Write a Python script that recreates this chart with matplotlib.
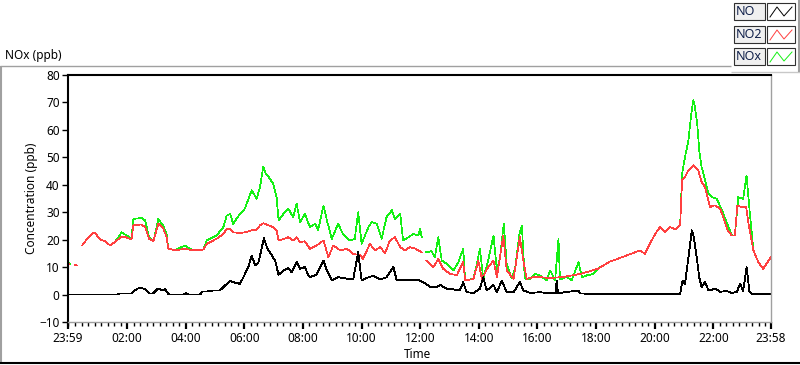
import numpy as np
import matplotlib
matplotlib.use("Agg")
import matplotlib.pyplot as plt
from matplotlib.lines import Line2D
from matplotlib.patches import Rectangle

plt.rcParams["font.family"] = ["Noto Sans", "DejaVu Sans"]

nan = np.nan

# time in minutes after 23:59 of the previous day, values in ppb
no_t = [0, 102, 106, 130, 141, 149, 158, 166, 174, 184, 194, 199, 205, 209, 237, 242, 246, 270,
        276, 285, 297, 311, 318, 332, 338, 352, 359, 369, 376, 383, 390, 397, 401, 407, 413, 424,
        431, 441, 451, 458, 468, 475, 485, 492, 495, 509, 523, 530, 540, 553, 571, 584, 594, 601,
        615, 625, 639, 652, 666, 673, 686, 700, 714, 727, 741, 755, 762, 775, 789, 802, 809, 816,
        830, 843, 850, 857, 871, 878, 888, 898, 912, 925, 932, 946, 966, 980, 999, 1000, 1003,
        1045, 1048, 1089, 1171, 1253, 1258, 1263, 1270, 1277, 1281, 1287, 1292, 1297, 1304, 1311,
        1326, 1335, 1348, 1359, 1369, 1376, 1382, 1389, 1395, 1400, 1439]
no_v = [0, 0, 0.4, 0.4, 2.1, 2.4, 2.0, 0.4, 0.4, 2.2, 1.5, 2.0, 0.2, 0, 0, 0.5, 0, 0,
        1.1, 1.1, 1.5, 1.5, 2.7, 5.1, 4.5, 3.9, 6.3, 10.0, 14.2, 10.6, 11.8, 17.3, 20.5, 17.3, 15.4, 12.4,
        7.2, 8.8, 9.6, 8.1, 11.8, 9.4, 10.0, 6.9, 6.3, 7.3, 12.4, 8.8, 5.1, 6.3, 5.8, 5.7, 15.4, 5.1,
        6.3, 6.8, 5.5, 6.3, 10.0, 5.1, 5.5, 5.1, 5.5, 4.5, 2.9, 2.7, 3.5, 2.1, 1.9, 1.5, 4.5, 0.85,
        0.6, 2.1, 6.3, 1.5, 3.5, 0.85, 5.1, 0.85, 0.85, 4.5, 1.5, 0.6, 0.85, 0.6, 0.6, 5.1, 0.5,
        1.5, 0.4, 0.2, 0.2, 0.3, 5.1, 3.9, 13.6, 23.4, 20.9, 13.6, 6.3, 2.7, 4.5, 1.5,
        2.1, 1.0, 1.3, 0.6, 1.0, 3.9, 1.3, 10.0, 1.0, 0.3, 0.3]

no2_t = [0, 3, 8, 14, 18, 23, 29, 40, 51, 55, 66, 76, 86, 96, 110, 120, 130, 134, 151, 158, 166,
         175, 185, 195, 202, 205, 219, 240, 260, 277, 284, 304, 318, 325, 332, 338, 352, 362, 376,
         386, 393, 400, 410, 420, 427, 431, 441, 451, 461, 468, 475, 485, 495, 509, 523, 533, 543,
         557, 571, 584, 598, 604, 618, 628, 639, 649, 659, 669, 680, 690, 700, 711, 724, 728, 733,
         748, 758, 768, 782, 796, 809, 813, 830, 840, 847, 860, 871, 878, 891, 898, 912, 925, 932,
         939, 956, 987, 1017, 1048, 1085, 1109, 1140, 1171, 1181, 1191, 1202, 1212, 1222, 1232,
         1243, 1253, 1257, 1263, 1270, 1280, 1290, 1297, 1304, 1314, 1324, 1335, 1341, 1350, 1359,
         1365, 1370, 1379, 1388, 1393, 1403, 1413, 1423, 1434, 1439]
no2_v = [11.7, 11.0, nan, 10.8, 10.6, nan, 17.9, 20.5, 22.4, 22.5, 20.0, 19.5, 17.9, 19.1, 21.2, 20.8, 20.0, 25.4, 25.5, 24.5, 20.3,
         19.5, 25.8, 24.0, 20.9, 16.7, 16.2, 16.6, 16.1, 16.4, 18.5, 20.3, 22.1, 24.0, 24.0, 22.7, 22.4, 22.7, 23.4,
         23.6, 25.2, 26.0, 25.2, 24.6, 23.4, 19.7, 20.2, 20.9, 19.7, 20.9, 19.1, 19.4, 16.7, 17.9, 19.7, 13.6, 17.9,
         16.1, 16.7, 14.8, 14.4, 13.0, 18.5, 16.1, 17.3, 15.1, 19.7, 20.9, 17.3, 16.1, 17.3, 16.7, 15.4, nan, 12.4,
         10.0, 13.0, 9.4, 7.5, 7.1, 11.8, 5.1, 5.7, 12.4, 5.7, 10.0, 12.4, 6.3, 21.5, 8.8, 5.7, 20.9, 12.4,
         5.7, 6.5, 6.0, 6.5, 7.5, 9.4, 12.0, 14.0, 16.1, 14.8, 18.5, 22.1, 24.6, 22.7, 24.6,
         23.8, 25.2, 41.6, 42.8, 45.3, 47.1, 45.3, 41.0, 39.2, 31.9, 32.5, 31.3, 28.2, 23.4, 21.5,
         21.5, 32.5, 31.9, 31.9, 25.8, 16.1, 11.8, 9.4, 12.4, 13.6]

nox_t = [0, 4, 8, 14, 18, 23, 29, 40, 51, 55, 66, 76, 86, 96, 110, 120, 130, 134, 151, 158, 166,
         175, 185, 195, 202, 205, 219, 240, 250, 260, 277, 284, 304, 318, 325, 332, 338, 352, 362,
         376, 386, 393, 400, 405, 410, 420, 427, 431, 441, 451, 461, 468, 475, 485, 495, 506, 512,
         523, 530, 540, 553, 563, 577, 587, 594, 601, 615, 622, 632, 642, 652, 663, 669, 680, 686,
         697, 707, 717, 721, 724, 728, 733, 744, 751, 758, 765, 775, 789, 799, 809, 813, 823, 830,
         837, 843, 850, 860, 871, 878, 884, 892, 898, 908, 915, 924, 929, 935, 946, 956, 966, 980,
         987, 997, 1004, 1007, 1021, 1031, 1045, 1052, 1062, 1075, 1086, 1109, 1140, 1171, 1181,
         1191, 1202, 1212, 1222, 1232, 1243, 1253, 1257, 1263, 1270, 1275, 1280, 1283, 1288, 1292,
         1297, 1304, 1311, 1318, 1328, 1338, 1352, 1359, 1365, 1372, 1382, 1389, 1395, 1403, 1413,
         1423, 1434, 1439]
nox_v = [11.7, 11.0, nan, 10.8, 10.6, nan, 17.9, 20.5, 22.4, 22.5, 20.0, 19.5, 17.9, 19.1, 22.7, 21.5, 20.5, 27.6, 27.9, 27.0, 20.8,
         19.5, 27.6, 25.0, 22.0, 16.7, 16.2, 17.9, 16.6, 16.1, 16.4, 19.7, 21.5, 24.6, 28.8, 29.4, 25.8, 29.4, 31.3,
         38.0, 34.9, 39.2, 46.7, 44.0, 43.0, 40.4, 35.5, 27.0, 29.4, 31.3, 28.2, 33.1, 26.4, 29.4, 24.6, 25.8, 23.4,
         32.5, 27.0, 20.3, 25.8, 22.0, 19.7, 20.3, 30.0, 18.5, 24.6, 26.4, 25.8, 20.3, 28.2, 30.7, 27.6, 29.4, 19.7,
         20.9, 22.1, 21.5, 24.0, 20.9, nan, 15.4, 15.8, 13.6, 20.9, 12.4, 11.2, 8.8, 11.8, 16.7, 5.1, 5.5, 5.8,
         11.2, 16.7, 5.8, 12.4, 21.5, 8.8, 13.0, 25.8, 11.2, 5.8, 9.4, 22.1, 25.2, 5.8, 5.7, 7.5, 7.0, 5.1,
         8.8, 5.1, 20.3, 5.5, 6.5, 5.1, 11.8, 6.3, 7.0, 7.5, 9.6, 12.0, 14.0, 16.1, 14.8,
         18.5, 22.1, 24.6, 22.7, 24.6, 23.8, 25.2, 44.0, 50.1, 56.2, 64.7, 70.8, 68.5, 62.3, 52.6,
         46.5, 41.6, 36.7, 35.5, 34.9, 31.0, 24.6, 21.5, 21.5, 35.5, 34.9, 43.4, 31.0, 16.1, 11.8,
         9.4, 12.4, 13.6]

tick_min = [0, 121, 241, 361, 481, 601, 721, 841, 961, 1081, 1201, 1321, 1439]
tick_lab = ["23:59", "02:00", "04:00", "06:00", "08:00", "10:00", "12:00", "14:00",
            "16:00", "18:00", "20:00", "22:00", "23:58"]
y_ticks = [-10, 0, 10, 20, 30, 40, 50, 60, 70, 80]

W, H = 800, 365
fig = plt.figure(figsize=(W / 100, H / 100), dpi=100)


def fx(x):
    return x / W


def fy(y):
    return 1 - y / H


def fline(x0, y0, x1, y1, color, lw=1.0):
    fig.add_artist(Line2D([fx(x0), fx(x1)], [fy(y0), fy(y1)], transform=fig.transFigure,
                          color=color, lw=lw, solid_capstyle="butt"))


ax = fig.add_axes([fx(68), fy(322), fx(771 - 68), (322 - 75) / H])
# LabVIEW draws 1 px lines without smoothing
ax.plot(nox_t, nox_v, color="#14f014", lw=0.5, antialiased=False)
ax.plot(no2_t, no2_v, color="#ff4040", lw=0.5, antialiased=False)
ax.plot(no_t, no_v, color="black", lw=0.6, antialiased=False)

ax.set_xlim(0, 1439)
ax.set_ylim(-10, 80)
ax.set_yticks(y_ticks)
ax.set_xticks(tick_min)
ax.set_xticklabels(tick_lab)
ax.set_xticks([m for m in np.arange(121 - 120 / 9 * 9, 1440, 120 / 9) if m >= 0], minor=True)
ax.tick_params(axis="y", length=4, width=1, labelsize=8.5, pad=2)
ax.tick_params(axis="x", which="major", length=5, width=1.6, labelsize=8.5, pad=2)
ax.tick_params(axis="x", which="minor", length=3, width=1)
for s in ["left", "top"]:
    ax.spines[s].set_color("black")
    ax.spines[s].set_linewidth(1.5)
for s in ["right", "bottom"]:
    ax.spines[s].set_color("#a0a0a0")
    ax.spines[s].set_linewidth(1.0)

fig.text(fx(32), fy(198), "Concentration (ppb)", rotation=90, ha="center", va="center", fontsize=8.5)
fig.text(fx(417), fy(354), "Time", ha="center", va="center", fontsize=8.5)
fig.text(fx(5), fy(56), "NOx (ppb)", ha="left", va="center", fontsize=8.5)

# outer frame
fline(0.5, 66, 0.5, 363, "#a0a0a0", 1.5)
fline(0, 66, 731, 66, "#a0a0a0", 1.0)
fline(0, 363, 800, 363, "black", 1.5)
fline(731, 72, 800, 72, "#c8c8c8", 1.0)
fline(798.5, 0, 798.5, 72, "#a0a0a0", 1.5)

# legend
rows = [("NO", "black", 3), ("NO2", "#ff4040", 26), ("NOx", "#14f014", 48)]
for name, col, top in rows:
    fig.add_artist(Rectangle((fx(734), fy(top + 17)), fx(31), 17 / H, transform=fig.transFigure,
                             facecolor="#f0f0f0", edgecolor="#303030", lw=0.8))
    fig.text(fx(736), fy(top + 8.5), name, ha="left", va="center", fontsize=9, color="#10204a")
    fig.add_artist(Rectangle((fx(767), fy(top + 17)), fx(28), 17 / H, transform=fig.transFigure,
                             facecolor="white", edgecolor="#303030", lw=0.8))
    zx = [770, 777, 784, 792]
    zy = [top + 14, top + 4, top + 13, top + 4]
    fig.add_artist(Line2D([fx(v) for v in zx], [fy(v) for v in zy], transform=fig.transFigure,
                          color=col, lw=0.7))

fig.savefig("out.png", dpi=100)
